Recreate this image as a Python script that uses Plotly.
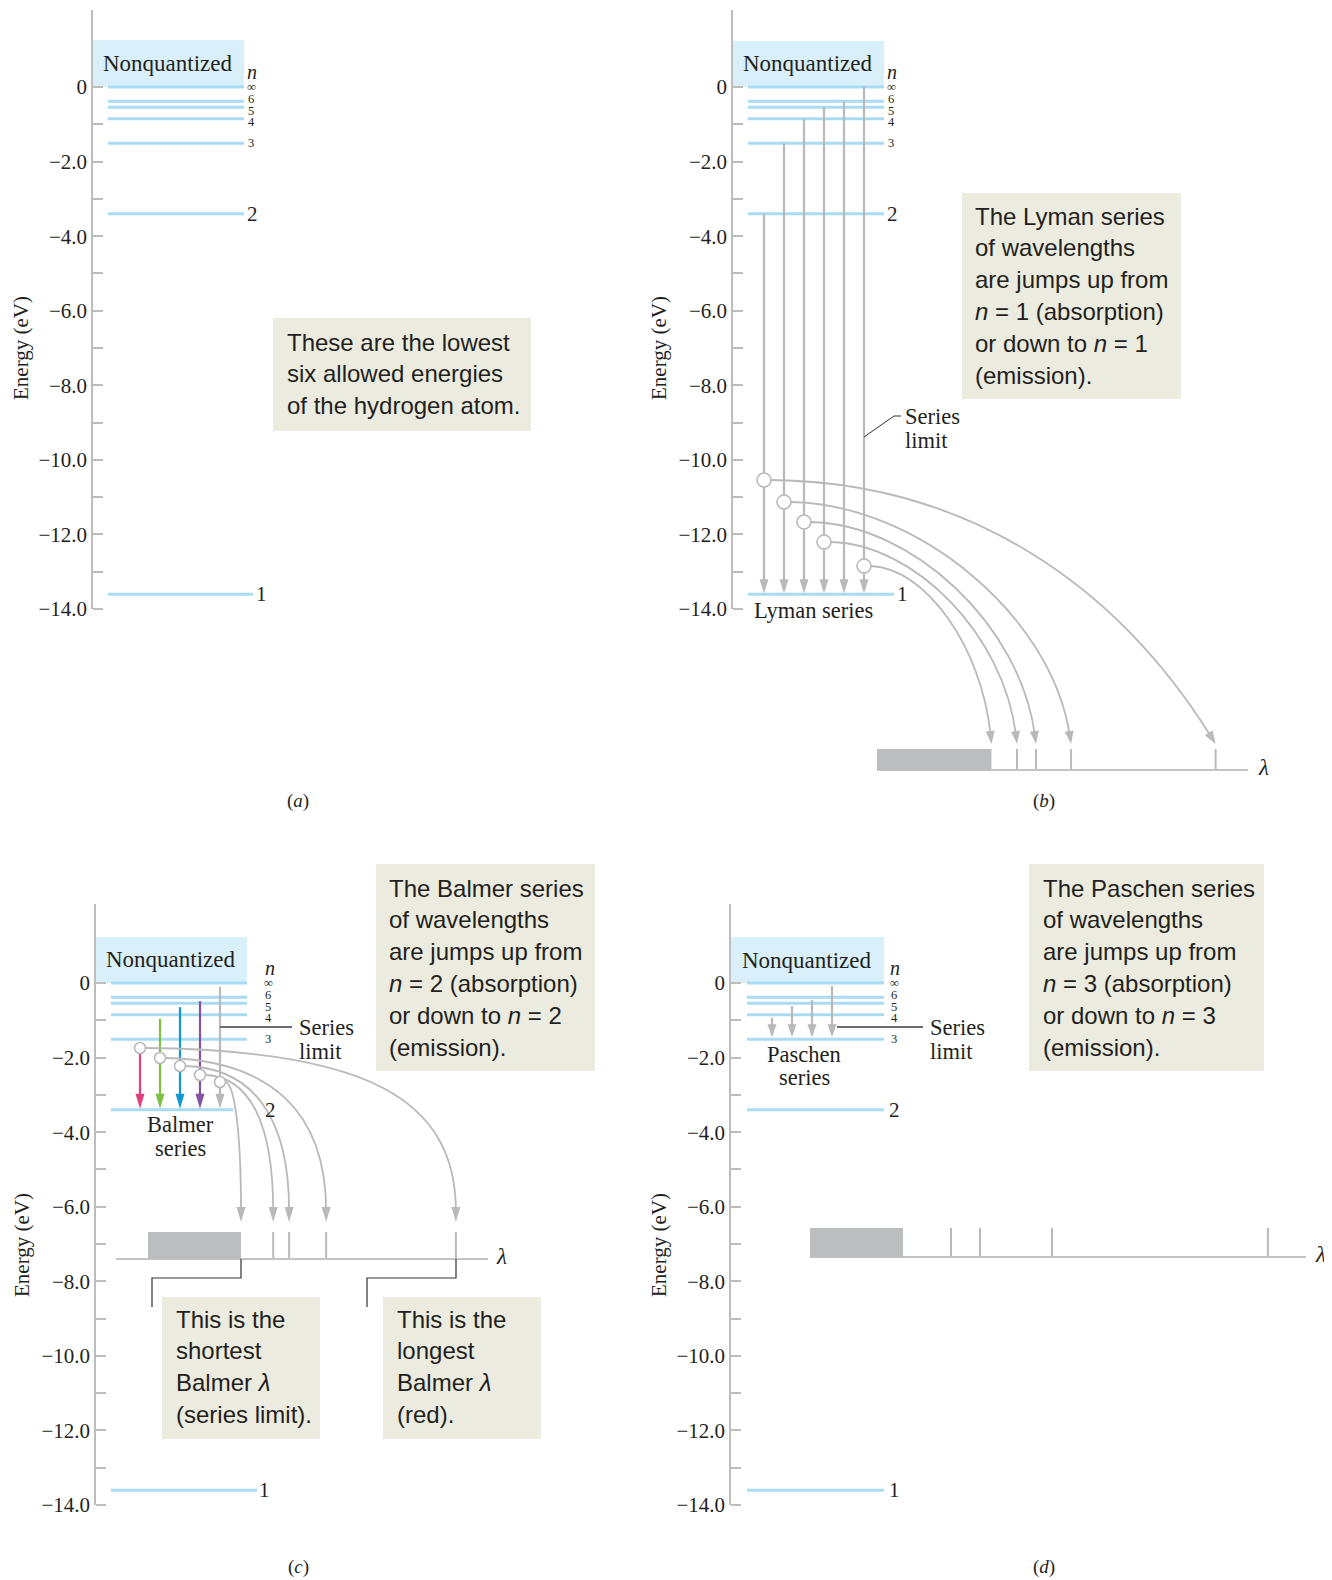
import plotly.graph_objects as go

W, H = 1332, 1580
OFF = 8            # page body margin of the browser; layout below is in reference pixels
PX_PER_EV = 37.29

# ---------------- data ----------------
level_n = ["1", "2", "3", "4", "5", "6", "∞"]
level_energy_eV = [-13.6, -3.4, -1.51, -0.85, -0.54, -0.38, 0.0]
energy_tick_vals = [0, -2, -4, -6, -8, -10, -12, -14]
energy_tick_text = ["0", "−2.0", "−4.0", "−6.0", "−8.0", "−10.0", "−12.0", "−14.0"]
energy_minor_vals = [-1, -3, -5, -7, -9, -11, -13]

lyman_arrow_from = ["2", "3", "4", "5", "6", "∞"]
lyman_curve_from = ["2", "3", "4", "5", "∞"]
lyman_lambda_nm = [121.9, 102.1, 97.3, 94.7]
lyman_limit_nm = 91.2

balmer_arrow_from = ["3", "4", "5", "6", "∞"]
balmer_arrow_colors = ["#e2407c", "#79c143", "#0f98d5", "#8352a1", "#b9b9b9"]
balmer_lambda_nm = [661, 482, 431, 409]
balmer_limit_nm = 364.6

paschen_arrow_from = ["4", "5", "6", "∞"]
paschen_lambda_nm = [1875, 1251, 1043, 959]
paschen_limit_nm = 820.4

E = dict(zip(level_n, level_energy_eV))

# ---------------- style ----------------
SERIF = "Liberation Serif, Times New Roman, serif"
SANS = "Liberation Sans, Arial, sans-serif"
DARK = "#231f20"
LEVEL_BLUE = "#a9dcf3"
BOX_BLUE = "#d9eff9"
NOTE_BG = "#ecebdf"
GRAY = "#b9b9b9"
AXIS_GRAY = "#bdbdbd"

PANELS = {
    "a": dict(sfx="", x_lo=8, x_hi=660, p_lo=8, p_hi=820, axis_x=92, e0=87, axis_top=10),
    "b": dict(sfx="2", x_lo=660, x_hi=1336, p_lo=8, p_hi=820, axis_x=732, e0=87, axis_top=10),
    "c": dict(sfx="3", x_lo=8, x_hi=660, p_lo=820, p_hi=1586, axis_x=95, e0=983, axis_top=904),
    "d": dict(sfx="4", x_lo=660, x_hi=1336, p_lo=820, p_hi=1586, axis_x=730, e0=983, axis_top=904),
}
LEVEL_X = {
    "a": ((108, 244), {"1": (108, 253)}),
    "b": ((748, 884), {"1": (748, 894)}),
    "c": ((111, 247), {"2": (111, 233), "1": (111, 257)}),
    "d": ((747, 884), {}),
}
LABELS = {
    "a": dict(small_x=251, two_x=252, one_x=261, n_xy=(252, 72), nq=(168, 63.5), nqbox=(92, 244, 40), elab=(21, 348), cap=(298, 801)),
    "b": dict(small_x=891, two_x=892, one_x=902, n_xy=(892, 72), nq=(808, 64), nqbox=(732, 884, 41), elab=(659, 348), cap=(1044, 801)),
    "c": dict(small_x=268, two_x=270, one_x=264, n_xy=(270, 968), nq=(171, 959), nqbox=(95, 247, 937), elab=(22, 1245), cap=(298, 1567)),
    "d": dict(small_x=894, two_x=894, one_x=894, n_xy=(895, 968), nq=(807, 960), nqbox=(730, 884, 937), elab=(659, 1245), cap=(1044, 1567)),
}
SMALL_NUDGE = {"∞": 0, "6": -2, "5": 4, "4": 3, "3": 0}

SPEC = {
    "b": dict(axn=5, panel="b", px_left=877, px_right=1248, py_top=749, py_base=770, px_limit=991.5,
              scale=7.3, lam_limit=lyman_limit_nm, lines=lyman_lambda_nm, box_left_px=877, lam_xy=(1263, 767)),
    "c": dict(axn=6, panel="c", px_left=116, px_right=488, py_top=1232, py_base=1259, px_limit=241,
              scale=0.725, lam_limit=balmer_limit_nm, lines=balmer_lambda_nm, box_left_px=148, lam_xy=(501, 1256)),
    "d": dict(axn=7, panel="d", px_left=810, px_right=1306, py_top=1228, py_base=1257, px_limit=903,
              scale=0.346, lam_limit=paschen_limit_nm, lines=paschen_lambda_nm, box_left_px=810, lam_xy=(1320, 1254)),
}


def fx(X):
    return (X - OFF) / W


def fy(Y):
    return 1 - (Y - OFF) / H


def lam_of_px(s, px):
    return s["lam_limit"] + (px - s["px_limit"]) / s["scale"]


def px_of_lam(s, lam):
    return s["px_limit"] + (lam - s["lam_limit"]) * s["scale"]


def ey(pn, py):
    return (PANELS[pn]["e0"] - py) / PX_PER_EV


def refs(pn):
    s = PANELS[pn]["sfx"]
    return "x" + s, "y" + s


shapes, annots, traces = [], [], []


def txt(x, y, text, size, family=SERIF, xanchor="center", color=DARK, angle=0):
    annots.append(dict(x=fx(x), y=fy(y), xref="paper", yref="paper", text=text, showarrow=False,
                       font=dict(family=family, size=size, color=color), xanchor=xanchor,
                       yanchor="middle", textangle=angle, borderpad=0))


def rect_paper(x0, y0, x1, y1, color):
    shapes.append(dict(type="rect", xref="paper", yref="paper", x0=fx(x0), x1=fx(x1), y0=fy(y1), y1=fy(y0),
                       fillcolor=color, line=dict(width=0), layer="below"))


def pline(pn, pts, color, width):
    xr, yr = refs(pn)
    d = "M " + " L ".join(f"{x:.2f},{ey(pn, y):.4f}" for x, y in pts)
    shapes.append(dict(type="path", path=d, xref=xr, yref=yr, line=dict(color=color, width=width)))


def head(pn, xt, yt, ux, uy, color, L=13, hw=4.5):
    bx, by = xt - ux * L, yt - uy * L
    nx, ny = -uy, ux
    pts = [(xt, yt), (bx + nx * hw, by + ny * hw), (bx - nx * hw, by - ny * hw)]
    xr, yr = refs(pn)
    d = "M " + " L ".join(f"{x:.2f},{ey(pn, y):.4f}" for x, y in pts) + " Z"
    shapes.append(dict(type="path", path=d, xref=xr, yref=yr, fillcolor=color, line=dict(width=0)))


def energy_arrow(pn, x, e_from, e_to, color, gap_px, tip_px, L, hw, width):
    """Vertical downward arrow from energy e_from to e_to (eV) at layout x."""
    xr, yr = refs(pn)
    y_start = e_from - gap_px / PX_PER_EV
    y_tip = e_to + tip_px / PX_PER_EV
    shapes.append(dict(type="line", xref=xr, yref=yr, x0=x, x1=x, y0=y_start,
                       y1=y_tip + 0.6 * L / PX_PER_EV, line=dict(color=color, width=width)))
    d = (f"M {x},{y_tip:.4f} L {x - hw},{y_tip + L / PX_PER_EV:.4f} "
         f"L {x + hw},{y_tip + L / PX_PER_EV:.4f} Z")
    shapes.append(dict(type="path", path=d, xref=xr, yref=yr, fillcolor=color, line=dict(width=0)))


def circle(pn, cx, cy, r, color=GRAY):
    xr, yr = refs(pn)
    shapes.append(dict(type="circle", xref=xr, yref=yr, x0=cx - r, x1=cx + r,
                       y0=ey(pn, cy + r), y1=ey(pn, cy - r), fillcolor="white",
                       line=dict(color=color, width=1.6)))


def curve_arrow(pn, p0, tip, L1, L2, u, color=GRAY, width=1.8, head_L=13, hw=4.5):
    ux, uy = u
    n = (ux * ux + uy * uy) ** 0.5
    ux, uy = ux / n, uy / n
    end = (tip[0] - ux * (head_L - 4), tip[1] - uy * (head_L - 4))
    p1 = (p0[0] + L1, p0[1] + 2)
    p2 = (end[0] - ux * L2, end[1] - uy * L2)
    xr, yr = refs(pn)
    c = [f"{x:.2f},{ey(pn, y):.4f}" for x, y in (p0, p1, p2, end)]
    shapes.append(dict(type="path", path=f"M {c[0]} C {c[1]} {c[2]} {c[3]}", xref=xr, yref=yr,
                       line=dict(color=color, width=width)))
    head(pn, tip[0], tip[1], ux, uy, color, head_L, hw)


layout = dict(width=W, height=H, margin=dict(l=0, r=0, t=0, b=0), paper_bgcolor="white",
              plot_bgcolor="rgba(0,0,0,0)", showlegend=False)

# ---------------- panels: axes, levels, labels ----------------
for pn, p in PANELS.items():
    s = p["sfx"]
    xr, yr = refs(pn)
    layout["xaxis" + s] = dict(domain=[max(0, fx(p["x_lo"])), min(1, fx(p["x_hi"]))],
                               range=[p["x_lo"], p["x_lo"] + (min(1, fx(p["x_hi"])) - fx(p["x_lo"])) * W],
                               visible=False, anchor=yr, fixedrange=True)
    y_dom = [max(0, fy(p["p_hi"])), min(1, fy(p["p_lo"]))]
    layout["yaxis" + s] = dict(
        domain=y_dom,
        range=[ey(pn, OFF + (1 - y_dom[0]) * H), ey(pn, OFF + (1 - y_dom[1]) * H)],
        anchor="free", position=fx(p["axis_x"]), side="left", fixedrange=True,
        tickmode="array", tickvals=energy_tick_vals, ticktext=energy_tick_text,
        ticks="inside", ticklen=10, tickwidth=1.5, tickcolor=AXIS_GRAY,
        showline=False, showgrid=False, zeroline=False, ticklabelstandoff=5,
        tickfont=dict(family=SERIF, size=21, color=DARK),
        minor=dict(tickmode="array", tickvals=energy_minor_vals, ticks="inside", ticklen=10,
                   tickwidth=1.5, tickcolor=AXIS_GRAY, showgrid=False))
    # axis line from the top of the diagram down to -14 eV
    shapes.append(dict(type="line", xref=xr, yref=yr, x0=p["axis_x"], x1=p["axis_x"],
                       y0=ey(pn, p["axis_top"]), y1=min(energy_tick_vals),
                       line=dict(color=AXIS_GRAY, width=2)))
    lab = LABELS[pn]
    # nonquantized band above E = 0
    bx0, bx1, btop = lab["nqbox"]
    shapes.append(dict(type="rect", xref=xr, yref=yr, x0=bx0, x1=bx1, y0=E["∞"], y1=ey(pn, btop),
                       fillcolor=BOX_BLUE, line=dict(width=0), layer="below"))
    txt(lab["nq"][0], lab["nq"][1], "Nonquantized", 23)
    # energy levels
    default, over = LEVEL_X[pn]
    xs, ys = [], []
    for n, e in zip(level_n, level_energy_eV):
        x0, x1 = over.get(n, default)
        xs += [x0, x1, None]
        ys += [e, e, None]
    traces.append(go.Scatter(x=xs, y=ys, xaxis=xr, yaxis=yr, mode="lines",
                             line=dict(color=LEVEL_BLUE, width=3), hoverinfo="skip"))
    # level labels
    for n, e in zip(level_n, level_energy_eV):
        if n in SMALL_NUDGE:
            annots.append(dict(x=lab["small_x"], y=e, xref=xr, yref=yr, text=n, showarrow=False,
                               font=dict(family=SERIF, size=12.5, color=DARK), xanchor="center",
                               yanchor="middle", yshift=-SMALL_NUDGE[n]))
        else:
            xx = lab["two_x"] if n == "2" else lab["one_x"]
            annots.append(dict(x=xx, y=e, xref=xr, yref=yr, text=n, showarrow=False,
                               font=dict(family=SERIF, size=21, color=DARK), xanchor="center",
                               yanchor="middle"))
    txt(lab["n_xy"][0], lab["n_xy"][1], "<i>n</i>", 20)
    txt(lab["elab"][0], lab["elab"][1], "Energy (eV)", 21, angle=-90)
    txt(lab["cap"][0], lab["cap"][1], "(<i>" + pn + "</i>)", 19)

# ---------------- spectra (wavelength axes) ----------------
for key, s in SPEC.items():
    n = s["axn"]
    pad = 3
    h = s["py_base"] - s["py_top"]
    layout[f"xaxis{n}"] = dict(domain=[fx(s["px_left"] - pad), fx(s["px_right"] + pad)],
                               range=[lam_of_px(s, s["px_left"] - pad), lam_of_px(s, s["px_right"] + pad)],
                               visible=False, anchor=f"y{n}", fixedrange=True)
    layout[f"yaxis{n}"] = dict(domain=[fy(s["py_base"] + pad), fy(s["py_top"] - pad)],
                               range=[-pad / h, 1 + pad / h], visible=False, anchor=f"x{n}", fixedrange=True)
    shapes.append(dict(type="rect", xref=f"x{n}", yref=f"y{n}", x0=lam_of_px(s, s["box_left_px"]),
                       x1=s["lam_limit"], y0=0, y1=1, fillcolor="#bcbdbf", line=dict(width=0)))
    xs, ys = [], []
    for lam in s["lines"]:
        xs += [lam, lam, None]
        ys += [0, 1, None]
    traces.append(go.Scatter(x=xs, y=ys, xaxis=f"x{n}", yaxis=f"y{n}", mode="lines",
                             line=dict(color=GRAY, width=2), hoverinfo="skip"))
    traces.append(go.Scatter(x=[lam_of_px(s, s["px_left"]), lam_of_px(s, s["px_right"])], y=[0, 0],
                             xaxis=f"x{n}", yaxis=f"y{n}", mode="lines",
                             line=dict(color="#c4c4c4", width=2), hoverinfo="skip"))
    txt(s["lam_xy"][0], s["lam_xy"][1], "<i>λ</i>", 23)

# ---------------- (b) Lyman ----------------
lyman_arrow_x = [764, 784, 804, 824, 844, 864]
for x, nf in zip(lyman_arrow_x, lyman_arrow_from):
    energy_arrow("b", x, E[nf], E["1"], GRAY, 0, 1, 14, 4.5, 2.2)
lyman_circles = [(764, 480), (784, 502), (804, 522), (824, 542), (864, 566)]
lyman_targets = lyman_lambda_nm + [lyman_limit_nm]
lyman_curve_par = [(200, 175, (0.53, 0.85)), (0.45, 0.5, (0.15, 0.99)), (0.45, 0.5, (0.13, 0.99)),
                   (0.45, 0.5, (0.12, 0.99)), (0.45, 0.5, (0.10, 0.995))]
sb = SPEC["b"]
for (cx, cy), lam, (l1, l2, u) in zip(lyman_circles, lyman_targets, lyman_curve_par):
    p0 = (cx + 7, cy)
    tip = (px_of_lam(sb, lam), 744)
    dx, dy = tip[0] - p0[0], tip[1] - p0[1]
    L1 = l1 if l1 > 1 else l1 * dx
    L2 = l2 if l2 > 1 else l2 * dy
    curve_arrow("b", p0, tip, L1, L2, u)
for cx, cy in lyman_circles:
    circle("b", cx, cy, 7)
pline("b", [(864, 437), (894, 416), (901, 416)], "#333333", 1)
txt(904, 416, "Series", 22.5, xanchor="left")
txt(904, 440, "limit", 22.5, xanchor="left")
txt(813, 610, "Lyman series", 22.5)

# ---------------- (c) Balmer ----------------
balmer_arrow_x = [140, 160, 180, 200, 220]
for x, nf, col in zip(balmer_arrow_x, balmer_arrow_from, balmer_arrow_colors):
    energy_arrow("c", x, E[nf], E["2"], col, 4, 1, 15, 4.5, 2.2)
pline("c", [(220, 1027), (292, 1027)], "#6d6d6d", 2)
balmer_circles = [(140, 1048), (160, 1058), (180, 1066), (200, 1075), (220, 1082)]
balmer_targets = balmer_lambda_nm + [balmer_limit_nm]
balmer_curve_par = [(0.7, 0.7), (0.65, 0.65), (0.65, 0.65), (0.65, 0.65), (0.6, 0.6)]
sc = SPEC["c"]
for (cx, cy), lam, (a1, a2) in zip(balmer_circles, balmer_targets, balmer_curve_par):
    p0 = (cx + 5.5, cy)
    tip = (px_of_lam(sc, lam), 1222)
    dx, dy = tip[0] - p0[0], tip[1] - p0[1] - 11
    curve_arrow("c", p0, tip, a1 * dx, a2 * dy, (0.0, 1.0), head_L=15)
for cx, cy in balmer_circles:
    circle("c", cx, cy, 5.5)
pline("c", [(241, 1259), (241, 1278), (152, 1278), (152, 1307)], "#333333", 1.2)
pline("c", [(456, 1259), (456, 1278), (367, 1278), (367, 1307)], "#333333", 1.2)
txt(298, 1027, "Series", 22.5, xanchor="left")
txt(298, 1051, "limit", 22.5, xanchor="left")
txt(180, 1124, "Balmer", 22.5)
txt(180, 1148, "series", 22.5)

# ---------------- (d) Paschen ----------------
paschen_arrow_x = [772, 792, 812, 832]
for x, nf in zip(paschen_arrow_x, paschen_arrow_from):
    energy_arrow("d", x, E[nf], E["3"], GRAY, 3, 2, 13, 4.5, 2.2)
pline("d", [(837, 1027), (923, 1027)], "#6d6d6d", 2)
txt(929, 1027, "Series", 22.5, xanchor="left")
txt(929, 1051, "limit", 22.5, xanchor="left")
txt(804, 1054, "Paschen", 22.5)
txt(804, 1077, "series", 22.5)

# ---------------- note boxes ----------------
NOTES = [
    ((273, 318, 531, 431), 286, 342, ["These are the lowest", "six allowed energies", "of the hydrogen atom."]),
    ((962, 193, 1181, 399), 974, 216, ["The Lyman series", "of wavelengths", "are jumps up from",
                                       "<i>n</i> = 1 (absorption)", "or down to <i>n</i> = 1", "(emission)."]),
    ((376, 864, 595, 1071), 388, 888, ["The Balmer series", "of wavelengths", "are jumps up from",
                                       "<i>n</i> = 2 (absorption)", "or down to <i>n</i> = 2", "(emission)."]),
    ((1029, 864, 1264, 1071), 1042, 888, ["The Paschen series", "of wavelengths", "are jumps up from",
                                          "<i>n</i> = 3 (absorption)", "or down to <i>n</i> = 3", "(emission)."]),
    ((162, 1297, 320, 1439), 175, 1319, ["This is the", "shortest", "Balmer <i>λ</i>", "(series limit)."]),
    ((383, 1297, 541, 1439), 396, 1319, ["This is the", "longest", "Balmer <i>λ</i>", "(red)."]),
]
for (x0, y0, x1, y1), tx, ty, lines in NOTES:
    rect_paper(x0, y0, x1, y1, NOTE_BG)
    for i, line in enumerate(lines):
        txt(tx, ty + 31.8 * i, line, 24, family=SANS, xanchor="left")

layout["shapes"] = shapes
layout["annotations"] = annots
fig = go.Figure(data=traces, layout=layout)
fig.update_traces(showlegend=False)
fig.write_html("out.html")
